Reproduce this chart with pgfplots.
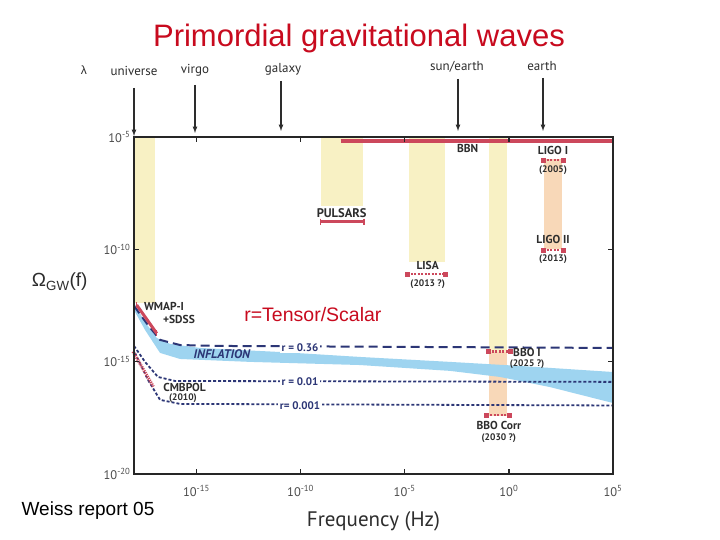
\documentclass[border=0pt]{standalone}
\usepackage{fontspec}
\setmainfont{PT Sans}
\newfontfamily\arial{Liberation Sans}
\usepackage{pgfplots}
\pgfplotsset{compat=1.18}
\definecolor{band}{RGB}{248,241,196}
\definecolor{peach}{RGB}{248,216,184}
\definecolor{infl}{RGB}{158,212,240}
\definecolor{navy}{RGB}{44,54,118}
\definecolor{bar}{RGB}{204,72,92}
\definecolor{titlered}{RGB}{200,10,30}
\definecolor{ink}{RGB}{45,45,45}

\begin{document}
\begin{tikzpicture}[x=1pt,y=1pt]
% page frame in slide pixels, axis box starts at (134,66)
\begin{scope}[shift={(-134,-66)}]
\useasboundingbox (0,0) rectangle (720,540);
\fill[white] (0,0) rectangle (720,540);

% title and side texts
\node[text=titlered, font=\arial\fontsize{31}{31}\selectfont] at (359,502) {Primordial gravitational waves};
\node[font=\arial\fontsize{19}{19}\selectfont] at (88,29) {Weiss report 05};

% wavelength scale
\begin{scope}[font=\fontsize{13}{13}\selectfont, text=ink]
  \node[font=\arial\fontsize{12}{12}\selectfont] at (84,470) {λ};
  \node at (134,469) {universe};
  \node at (195,470) {virgo};
  \node at (283,471) {galaxy};
  \node at (457,473) {sun/earth};
  \node at (542,474) {earth};
\end{scope}
\begin{scope}[line width=1.2pt, ink, -latex]
  \draw (134,452) -- (134,404);
  \draw (195,455) -- (195,407);
  \draw (281,459) -- (281,409);
  \draw (458,461) -- (458,409);
  \draw (543,462) -- (543,409);
\end{scope}
\end{scope}

\begin{axis}[scale only axis,
  width=479pt, height=337pt,
  xmin=-18, xmax=5, ymin=-20, ymax=-5, clip=false, axis on top,
  axis line style={line width=2pt, black!85},
  tick align=inside, major tick length=5pt,
  tick style={line width=1.5pt, black!85},
  xtick={-15,-10,-5,0,5},
  xticklabels={10\textsuperscript{-15},10\textsuperscript{-10},10\textsuperscript{-5},10\textsuperscript{0},10\textsuperscript{5}},
  ytick={-20,-15,-10,-5},
  yticklabels={10\textsuperscript{-20},10\textsuperscript{-15},10\textsuperscript{-10},10\textsuperscript{-5}},
  ticklabel style={font=\fontsize{12.5}{12.5}\selectfont, text=black!70},
  xticklabel style={yshift=-8pt},
  xlabel={Frequency (Hz)},
  xlabel style={font=\fontsize{21}{21}\selectfont, text=ink, at={(0.5,-0.14)}, anchor=center},
  ylabel={Ω\textsubscript{GW}(f)},
  ylabel style={font=\arial\fontsize{19}{19}\selectfont, text=ink, rotate=-90, at={(-0.155,0.57)}, anchor=center},
]
% search bands
\addplot[fill=band, draw=none] coordinates {(-18,-5) (-17,-5) (-17,-12.4) (-18,-12.4)};
\addplot[fill=band, draw=none] coordinates {(-9,-5) (-7,-5) (-7,-8.05) (-9,-8.05)};
\addplot[fill=band, draw=none] coordinates {(-4.8,-5) (-3.05,-5) (-3.05,-10.55) (-4.8,-10.55)};
\addplot[fill=band, draw=none] coordinates {(-0.95,-5) (-0.08,-5) (-0.08,-14.55) (-0.95,-14.55)};
\addplot[fill=peach, draw=none] coordinates {(-0.95,-14.55) (-0.08,-14.55) (-0.08,-17.4) (-0.95,-17.4)};
\addplot[fill=peach, draw=none] coordinates {(1.7,-6.0) (2.55,-6.0) (2.55,-10.0) (1.7,-10.0)};

% inflation band
\addplot[fill=infl, draw=none] coordinates {
  (-18,-12.39) (-17.47,-13.23) (-16.90,-13.95) (-16.27,-14.21) (-14.83,-14.39)
  (-10.99,-14.57) (-7.15,-14.79) (-2.83,-15.01) (0.53,-15.19) (5,-15.46)
  (5,-16.84) (1.97,-16.13) (-0.43,-15.68) (-2.83,-15.41) (-7.15,-15.15)
  (-12.43,-15.01) (-15.79,-14.88) (-16.75,-14.61) (-17.47,-13.59) (-18,-12.70)};

% tensor-to-scalar curves
\addplot[navy, line width=2pt, dash pattern=on 9pt off 5pt] coordinates {
  (-18,-12.52) (-17.33,-13.37) (-16.75,-14.03) (-15.79,-14.26) (-13.87,-14.30) (5,-14.39)};
\addplot[navy, line width=1.8pt, dash pattern=on 3pt off 2pt] coordinates {
  (-18,-14.30) (-17.47,-15.01) (-16.85,-15.68) (-16.03,-15.86) (5,-15.90)};
\addplot[navy, line width=1.8pt, dash pattern=on 3pt off 2pt] coordinates {
  (-17.95,-14.61) (-17.33,-15.81) (-16.75,-16.70) (-15.79,-16.88) (5,-16.95)};

% bounds and sensitivities
\addplot[bar, line width=3.5pt] coordinates {(-8.08,-5.18) (5,-5.18)};
\addplot[bar, line width=2.5pt, mark=|, mark size=3pt, mark options={line width=1.5pt}] coordinates {(-9.04,-8.77) (-6.95,-8.77)};
\addplot[bar, line width=3pt, mark=|, mark size=3pt, mark options={line width=1.5pt}] coordinates {(-17.87,-12.48) (-16.91,-13.74)};
\addplot[bar, line width=3pt, dash pattern=on 1.2pt off 1pt] coordinates {(-18.05,-14.55) (-17.07,-16.11)};
\pgfplotsset{dotbar/.style={bar, line width=2.5pt, dash pattern=on 2pt off 1.5pt,
  mark=square*, mark size=2pt, mark options={solid, line width=0.5pt}}}
\addplot[dotbar] coordinates {(1.65,-6.02) (2.61,-6.02)};
\addplot[dotbar] coordinates {(1.65,-10.03) (2.61,-10.03)};
\addplot[dotbar] coordinates {(-4.88,-11.1) (-3.06,-11.1)};
\addplot[dotbar] coordinates {(-1.0,-14.55) (0.05,-14.55)};
\addplot[dotbar] coordinates {(-1.07,-17.37) (0,-17.37)};

% labels
\begin{scope}[font=\bfseries\fontsize{11.5}{11.5}\selectfont, text=ink]
  \node at (axis cs:-1.98,-5.53) {BBN};
  \node at (axis cs:2.12,-5.61) {LIGO I};
  \node at (axis cs:2.12,-9.58) {LIGO II};
  \node[font=\bfseries\fontsize{12.5}{12.5}\selectfont] at (axis cs:-8.03,-8.38) {PULSARS};
  \node at (axis cs:-3.90,-10.70) {LISA};
  \node at (axis cs:0.87,-14.61) {BBO I};
  \node at (axis cs:-0.48,-17.85) {BBO Corr};
  \node at (axis cs:-16.56,-12.55) {WMAP-I};
  \node at (axis cs:-15.84,-13.14) {+SDSS};
  \node at (axis cs:-15.57,-16.16) {CMBPOL};
\end{scope}
\begin{scope}[font=\bfseries\fontsize{9.5}{9.5}\selectfont, text=ink]
  \node at (axis cs:2.12,-6.47) {(2005)};
  \node at (axis cs:2.12,-10.43) {(2013)};
  \node at (axis cs:-3.90,-11.54) {(2013 ?)};
  \node at (axis cs:0.87,-15.10) {(2025 ?)};
  \node at (axis cs:-0.48,-18.41) {(2030 ?)};
  \node at (axis cs:-15.65,-16.63) {(2010)};
\end{scope}
\node[font=\bfseries\itshape\fontsize{12.5}{12.5}\selectfont, text=navy] at (axis cs:-13.78,-14.66) {INFLATION};
\begin{scope}[every node/.style={font=\bfseries\fontsize{11}{11}\selectfont, text=navy, fill=white, inner sep=1.5pt}]
  \node at (axis cs:-10.03,-14.37) {r = 0.36};
  \node at (axis cs:-10.03,-15.89) {r = 0.01};
  \node at (axis cs:-10.03,-16.94) {r= 0.001};
\end{scope}
\node[text=titlered, font=\arial\fontsize{19.5}{19.5}\selectfont] at (axis cs:-9.41,-12.88) {r=Tensor/Scalar};
\end{axis}
\end{tikzpicture}
\end{document}
